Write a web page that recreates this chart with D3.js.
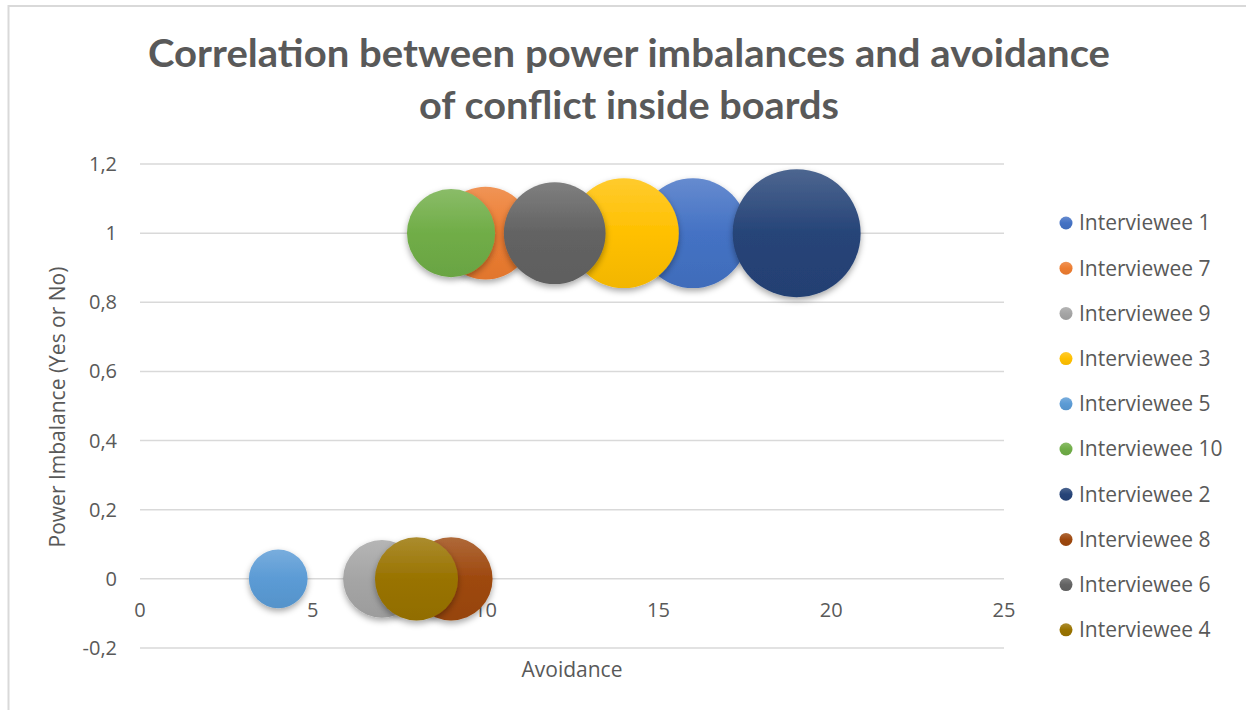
<!DOCTYPE html>
<html>
<head>
<meta charset="utf-8">
<script src="https://cdn.jsdelivr.net/npm/d3@7"></script>
<style>
  body { margin: 0; background: #fff; }
  svg text { font-family: "Open Sans", "Noto Sans", sans-serif; fill: #595959; }
</style>
</head>
<body>
<svg width="1246" height="710"></svg>
<script>
// series in legend / draw order
var names = ["Interviewee 1", "Interviewee 7", "Interviewee 9", "Interviewee 3", "Interviewee 5",
             "Interviewee 10", "Interviewee 2", "Interviewee 8", "Interviewee 6", "Interviewee 4"];
var avoidance = [16, 10, 7, 14, 4, 9, 19, 9, 12, 8];
var imbalance = [1, 1, 0, 1, 0, 1, 1, 0, 1, 0];
var bubbleSize = [14, 10, 7, 14, 4, 9, 19, 8, 12, 8];
var colors = ["#4472C4", "#ED7D31", "#A5A5A5", "#FFC000", "#5B9BD5",
              "#70AD47", "#264478", "#9E480E", "#636363", "#997300"];
var xTicks = [0, 5, 10, 15, 20, 25];
var yTicks = [-0.2, 0, 0.2, 0.4, 0.6, 0.8, 1, 1.2];

var svg = d3.select("svg");

// chart frame (only top/left edge shows in the picture)
svg.append("rect")
  .attr("x", 8.5).attr("y", 6).attr("width", 1260).attr("height", 720)
  .attr("fill", "none").attr("stroke", "#d9d9d9").attr("stroke-width", 2);

var x = d3.scaleLinear().domain([0, 25]).range([140, 1004]);
var y = d3.scaleLinear().domain([-0.2, 1.2]).range([648, 164]);
var r = d3.scaleSqrt().domain([0, d3.max(bubbleSize)]).range([0, 64]);

var defs = svg.append("defs");
var shadow = defs.append("filter").attr("id", "shadow")
  .attr("x", "-30%").attr("y", "-30%").attr("width", "160%").attr("height", "160%");
shadow.append("feDropShadow")
  .attr("dx", 0).attr("dy", 3).attr("stdDeviation", 3)
  .attr("flood-color", "#000").attr("flood-opacity", 0.35);

colors.forEach(function(c, i) {
  var g = defs.append("linearGradient").attr("id", "grad" + i)
    .attr("x1", 0).attr("y1", 0).attr("x2", 0).attr("y2", 1);
  g.append("stop").attr("offset", "0%").attr("stop-color", d3.interpolateRgb(c, "#fff")(0.18));
  g.append("stop").attr("offset", "50%").attr("stop-color", c);
  g.append("stop").attr("offset", "100%").attr("stop-color", d3.color(c).darker(0.15));
});

// title
var title = svg.append("text")
  .attr("text-anchor", "middle")
  .style("font-family", "Lato, 'Open Sans', sans-serif")
  .style("font-weight", "bold")
  .style("font-size", "39px");
title.append("tspan").attr("x", 629).attr("y", 67)
  .attr("textLength", 962).attr("lengthAdjust", "spacingAndGlyphs")
  .text("Correlation between power imbalances and avoidance");
title.append("tspan").attr("x", 629).attr("y", 119)
  .attr("textLength", 420).attr("lengthAdjust", "spacingAndGlyphs")
  .text("of conflict inside boards");

// gridlines
svg.append("g").selectAll("line")
  .data(yTicks)
  .enter().append("line")
  .attr("x1", x(0)).attr("x2", x(25))
  .attr("y1", function(d) { return y(d); })
  .attr("y2", function(d) { return y(d); })
  .attr("stroke", "#d9d9d9").attr("stroke-width", 1.5);

// y tick labels
svg.append("g").selectAll("text")
  .data(yTicks)
  .enter().append("text")
  .attr("x", 117)
  .attr("y", function(d) { return y(d); })
  .attr("dy", "0.35em")
  .attr("text-anchor", "end")
  .style("font-size", "20px")
  .text(function(d) { return String(d).replace(".", ","); });

// x tick labels (axis crosses at 0)
svg.append("g").selectAll("text")
  .data(xTicks)
  .enter().append("text")
  .attr("x", function(d) { return x(d); })
  .attr("y", y(0) + 38)
  .attr("text-anchor", "middle")
  .style("font-size", "20px")
  .text(function(d) { return d; });

// axis titles
svg.append("text")
  .attr("x", 572).attr("y", 677)
  .attr("text-anchor", "middle")
  .style("font-size", "21px")
  .text("Avoidance");

svg.append("text")
  .attr("transform", "translate(65,407) rotate(-90)")
  .attr("text-anchor", "middle")
  .style("font-size", "21px")
  .text("Power Imbalance (Yes or No)");

// bubbles
var idx = d3.range(names.length);
svg.append("g").selectAll("circle")
  .data(idx)
  .enter().append("circle")
  .attr("cx", function(i) { return x(avoidance[i]); })
  .attr("cy", function(i) { return y(imbalance[i]); })
  .attr("r", function(i) { return r(bubbleSize[i]); })
  .attr("fill", function(i) { return "url(#grad" + i + ")"; })
  .attr("filter", "url(#shadow)");

// legend
var legend = svg.append("g").selectAll("g")
  .data(idx)
  .enter().append("g")
  .attr("transform", function(i) { return "translate(1066," + (223 + i * 45.2) + ")"; });

legend.append("circle")
  .attr("r", 6.5)
  .attr("fill", function(i) { return "url(#grad" + i + ")"; });

legend.append("text")
  .attr("x", 13)
  .attr("dy", "0.35em")
  .style("font-size", "21px")
  .text(function(i) { return names[i]; });
</script>
</body>
</html>
